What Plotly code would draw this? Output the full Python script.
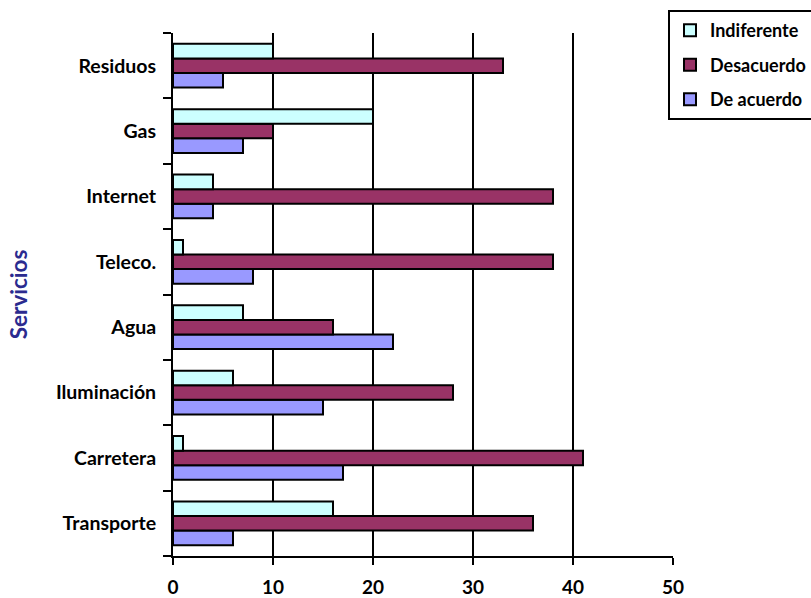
import plotly.graph_objects as go

categories = ["Transporte", "Carretera", "Iluminación", "Agua", "Teleco.", "Internet", "Gas", "Residuos"]
de_acuerdo = [6, 17, 15, 22, 8, 4, 7, 5]
desacuerdo = [36, 41, 28, 16, 38, 38, 10, 33]
indiferente = [16, 1, 6, 7, 1, 4, 20, 10]
x_ticks = [0, 10, 20, 30, 40, 50]

font_family = "Lato, 'Open Sans', sans-serif"

fig = go.Figure()
series = [
    ("De acuerdo", de_acuerdo, "#9999FF", 3),
    ("Desacuerdo", desacuerdo, "#993366", 2),
    ("Indiferente", indiferente, "#CCFFFF", 1),
]
for name, vals, color, rank in series:
    fig.add_trace(go.Bar(
        y=categories, x=vals, name=name, orientation="h",
        legendgroup=name, legendrank=rank,
        marker=dict(color=color, line=dict(color="black", width=2)),
    ))

fig.update_layout(
    width=811, height=598,
    margin=dict(l=173, r=138, t=33, b=42, autoexpand=False),
    paper_bgcolor="white", plot_bgcolor="white",
    barmode="group", bargap=0.33, bargroupgap=0,
    font=dict(family=font_family, size=19, color="black"),
    xaxis=dict(
        range=[0, 50], tickvals=x_ticks, ticktext=[str(v) for v in x_ticks],
        showgrid=True, gridcolor="black", gridwidth=2,
        showline=True, linecolor="black", linewidth=2,
        ticks="outside", ticklen=7, tickwidth=2, tickcolor="black",
        ticklabelstandoff=6,
        tickfont=dict(family=font_family, size=19, color="black", weight="bold"),
        zeroline=False, fixedrange=True, automargin=False,
    ),
    yaxis=dict(
        type="category", categoryorder="array", categoryarray=categories,
        showline=True, linecolor="black", linewidth=2,
        ticks="outside", tickson="boundaries", ticklen=8, tickwidth=2, tickcolor="black",
        ticklabelstandoff=11,
        tickfont=dict(family=font_family, size=19.5, color="black", weight="bold"),
        title=dict(text="Servicios", font=dict(family=font_family, size=22.5, color="#2B2B8F", weight="bold"), standoff=22),
        showgrid=False, fixedrange=True, automargin=False,
    ),
    legend=dict(
        xref="container", yref="container",
        x=0.8237, y=0.983, xanchor="left", yanchor="top",
        traceorder="grouped", tracegroupgap=8,
        bordercolor="black", borderwidth=2, bgcolor="white",
        font=dict(family=font_family, size=18, color="black", weight="bold"),
        itemwidth=30,
    ),
)

fig.write_html("out.html")
